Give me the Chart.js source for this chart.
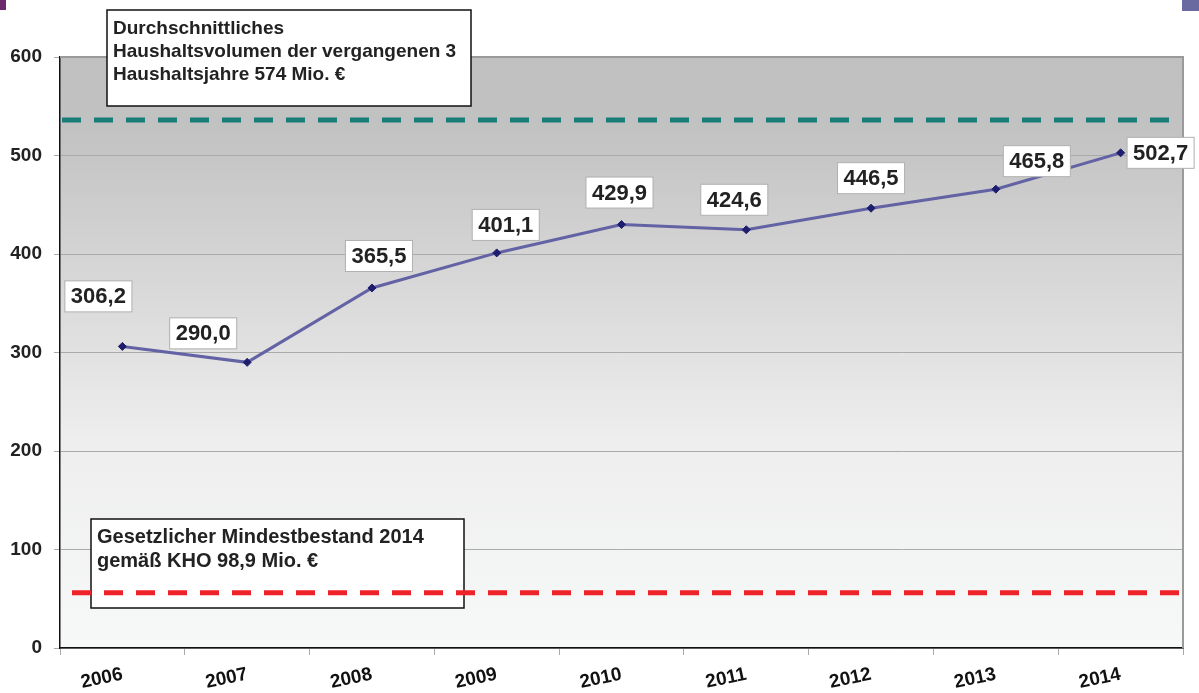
<!DOCTYPE html>
<html>
<head>
<meta charset="utf-8">
<script src="https://cdn.jsdelivr.net/npm/chart.js@4"></script>
<style>
  html, body { margin: 0; padding: 0; background: #fff; }
  #wrap { width: 1199px; height: 693px; position: relative; }
</style>
</head>
<body>
<div id="wrap"><canvas id="chart"></canvas></div>
<script>
// Daten
const years = ["2006", "2007", "2008", "2009", "2010", "2011", "2012", "2013", "2014"];
const volumes = [306.2, 290.0, 365.5, 401.1, 429.9, 424.6, 446.5, 465.8, 502.7];
const yTicks = [0, 100, 200, 300, 400, 500, 600];
const avgLineValue = 536;   // gestrichelte Linie oben (teal)
const minLineValue = 56;    // gestrichelte Linie unten (rot)
const avgText = ["Durchschnittliches", "Haushaltsvolumen der vergangenen 3", "Haushaltsjahre 574 Mio. €"];
const minText = ["Gesetzlicher Mindestbestand 2014", "gemäß KHO 98,9 Mio. €"];

// Versatz der Wertelabels zum Punkt (px)
const labelOffsets = [[-24, -50], [-44, -29], [7, -32], [9, -28], [-2, -32], [-12, -30], [0, -30], [41, -28], [40, 0]];

const FONT = "'Liberation Sans', Arial, sans-serif";

const decoPlugin = {
  id: "deco",
  beforeDraw(chart) {
    const { ctx, chartArea: a } = chart;
    ctx.save();
    // Ecken-Deko
    ctx.fillStyle = "#6b2a6b";
    ctx.fillRect(0, 0, 6, 10);
    ctx.fillStyle = "#6a69a0";
    ctx.fillRect(1182, 0, 17, 11);
    // Hintergrund-Verlauf
    const g = ctx.createLinearGradient(0, a.top, 0, a.bottom);
    g.addColorStop(0, "#c0c0c0");
    g.addColorStop(0.12, "#c2c2c2");
    g.addColorStop(0.65, "#eeeeee");
    g.addColorStop(1, "#f7f8f8");
    ctx.fillStyle = g;
    ctx.fillRect(a.left, a.top, a.right - a.left, a.bottom - a.top);
    ctx.restore();
  },
  afterDraw(chart) {
    const { ctx, chartArea: a } = chart;
    const y = chart.scales.y;
    ctx.save();
    // Rahmen oben/rechts
    ctx.strokeStyle = "#9a9a9a";
    ctx.lineWidth = 2;
    ctx.beginPath();
    ctx.moveTo(a.left, a.top);
    ctx.lineTo(a.right, a.top);
    ctx.lineTo(a.right, a.bottom);
    ctx.stroke();

    // Textboxen
    const drawBox = (x, yy, w, h, lines, size, lh) => {
      ctx.fillStyle = "#fff";
      ctx.fillRect(x, yy, w, h);
      ctx.strokeStyle = "#111";
      ctx.lineWidth = 1.5;
      ctx.strokeRect(x, yy, w, h);
      ctx.fillStyle = "#222";
      ctx.font = "bold " + size + "px " + FONT;
      ctx.textAlign = "left";
      ctx.textBaseline = "alphabetic";
      lines.forEach((t, i) => ctx.fillText(t, x + 6, yy + 24 + i * lh));
    };
    drawBox(107, 10, 364, 96, avgText, 19, 23);
    drawBox(91, 519, 373, 89, minText, 20, 24);

    // gestrichelte Linien
    ctx.lineWidth = 5;
    ctx.setLineDash([19, 13]);
    ctx.strokeStyle = "#167d78";
    ctx.beginPath();
    ctx.moveTo(62, y.getPixelForValue(avgLineValue));
    ctx.lineTo(1173, y.getPixelForValue(avgLineValue));
    ctx.stroke();
    ctx.strokeStyle = "#ee2229";
    ctx.beginPath();
    ctx.moveTo(72, y.getPixelForValue(minLineValue));
    ctx.lineTo(a.right, y.getPixelForValue(minLineValue));
    ctx.stroke();
    ctx.setLineDash([]);

    // Wertelabels
    const meta = chart.getDatasetMeta(0);
    ctx.font = "bold 22px " + FONT;
    ctx.textAlign = "center";
    ctx.textBaseline = "middle";
    meta.data.forEach((pt, i) => {
      const txt = volumes[i].toFixed(1).replace(".", ",");
      const w = ctx.measureText(txt).width + 12;
      const h = 31;
      const cx = pt.x + labelOffsets[i][0];
      const cy = pt.y + labelOffsets[i][1];
      ctx.fillStyle = "#fff";
      ctx.fillRect(cx - w / 2, cy - h / 2, w, h);
      ctx.strokeStyle = "#b0b0b0";
      ctx.lineWidth = 1;
      ctx.strokeRect(cx - w / 2, cy - h / 2, w, h);
      ctx.fillStyle = "#222";
      ctx.fillText(txt, cx, cy + 1);
    });
    ctx.restore();
  }
};

new Chart(document.getElementById("chart"), {
  type: "line",
  data: {
    labels: years,
    datasets: [{
      data: volumes,
      borderColor: "#6262a4",
      borderWidth: 3,
      tension: 0,
      pointStyle: "rectRot",
      pointRadius: 4,
      pointBackgroundColor: "#1e1e6e",
      pointBorderColor: "#1e1e6e",
      pointBorderWidth: 1
    }]
  },
  options: {
    responsive: true,
    maintainAspectRatio: false,
    animation: false,
    layout: { padding: { top: 57, right: 16, left: 0, bottom: 0 } },
    plugins: { legend: { display: false }, tooltip: { enabled: false } },
    scales: {
      x: {
        offset: true,
        grid: { offset: true, drawOnChartArea: false, drawTicks: true, tickLength: 7, color: "#aaaaaa" },
        border: { color: "#111", width: 1.5 },
        ticks: {
          minRotation: 12, maxRotation: 12, padding: 8,
          color: "#111",
          font: { family: FONT, size: 19, weight: "bold" }
        },
        afterFit(s) { s.height = 45; }
      },
      y: {
        min: 0, max: 600,
        afterBuildTicks(s) { s.ticks = yTicks.map(v => ({ value: v })); },
        grid: { color: "#aaaaaa", tickLength: 6, lineWidth: 1 },
        border: { color: "#111", width: 1.5 },
        ticks: {
          padding: 12,
          color: "#222",
          font: { family: FONT, size: 19, weight: "bold" }
        },
        afterFit(s) { s.width = 60; }
      }
    }
  },
  plugins: [decoPlugin]
});
</script>
</body>
</html>
